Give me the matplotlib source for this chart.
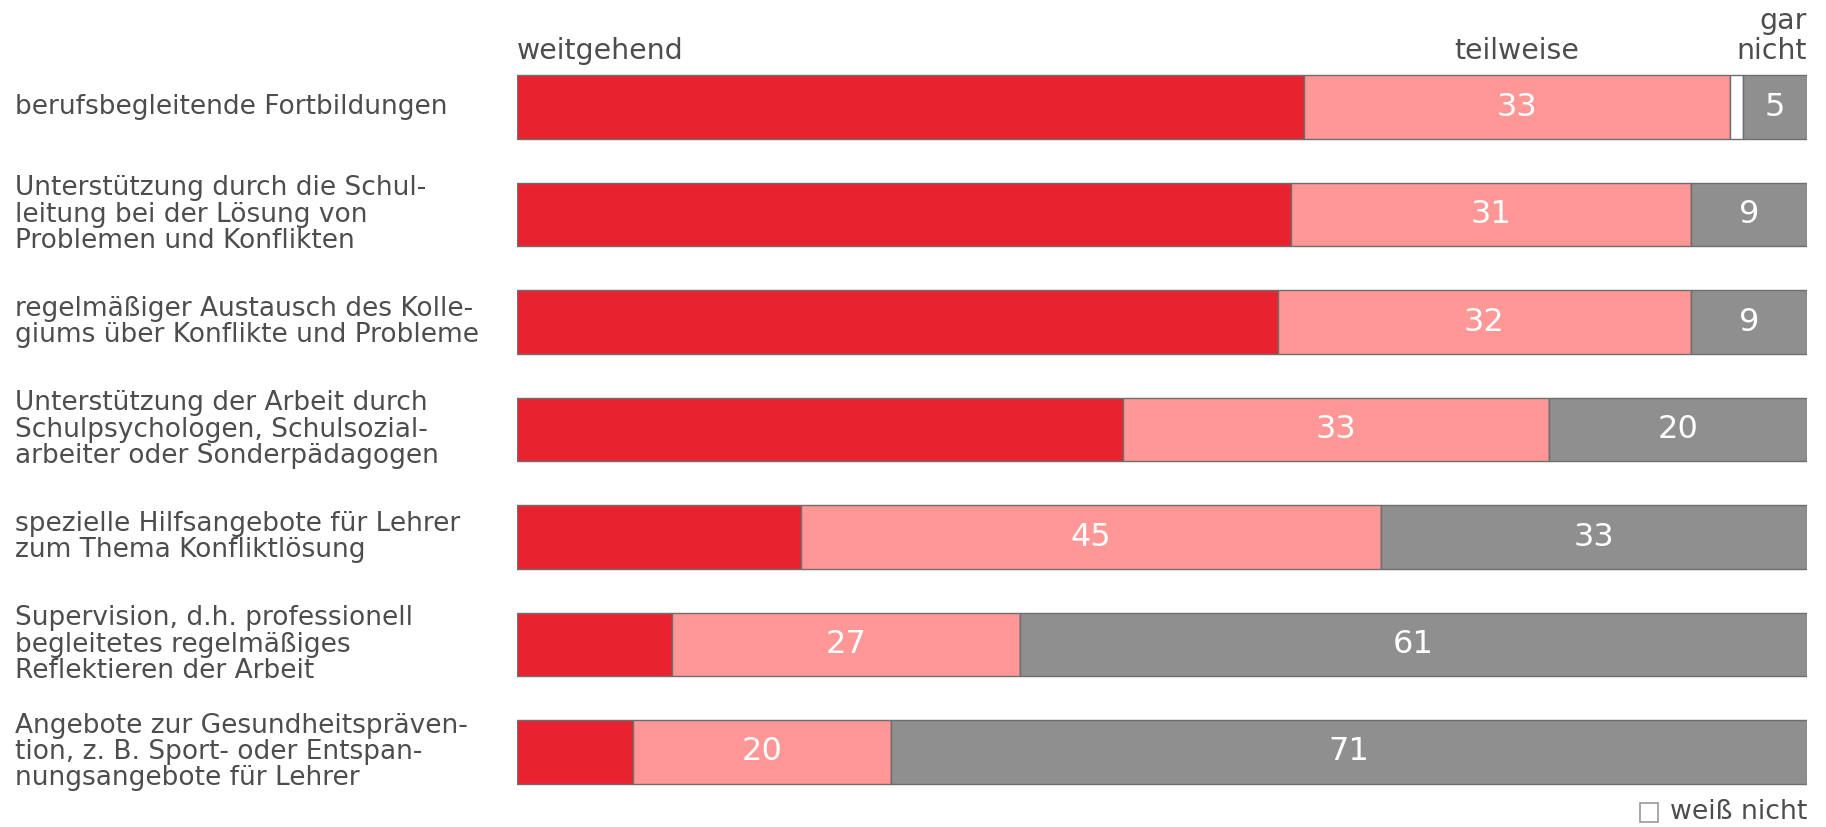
import matplotlib.pyplot as plt
from matplotlib.patches import Rectangle

categories = [
    "berufsbegleitende Fortbildungen",
    "Unterstützung durch die Schul-\nleitung bei der Lösung von\nProblemen und Konflikten",
    "regelmäßiger Austausch des Kolle-\ngiums über Konflikte und Probleme",
    "Unterstützung der Arbeit durch\nSchulpsychologen, Schulsozial-\narbeiter oder Sonderpädagogen",
    "spezielle Hilfsangebote für Lehrer\nzum Thema Konfliktlösung",
    "Supervision, d.h. professionell\nbegleitetes regelmäßiges\nReflektieren der Arbeit",
    "Angebote zur Gesundheitspräven-\ntion, z. B. Sport- oder Entspan-\nnungsangebote für Lehrer",
]
weitgehend = [61, 60, 59, 47, 22, 12, 9]
teilweise = [33, 31, 32, 33, 45, 27, 20]
weiss_nicht = [1, 0, 0, 0, 0, 0, 0]
gar_nicht = [5, 9, 9, 20, 33, 61, 71]

RED = "#e8232f"
PINK = "#fe9795"
GREY = "#8f8f8f"
EDGE = "#6e6e6e"
TXT = "#4d4d4d"

fig = plt.figure(figsize=(18.26, 8.27), dpi=100)
ax = fig.add_axes([517 / 1826, 1 - 805.75 / 827, 1290 / 1826, 752.5 / 827])
ax.set_xlim(0, 100)
ax.set_ylim(6.5, -0.5)
ax.axis("off")

h = 0.595
rows = range(len(categories))
left = [0] * len(categories)
for vals, col, lab in [(weitgehend, RED, False), (teilweise, PINK, True),
                       (weiss_nicht, "white", False), (gar_nicht, GREY, True)]:
    bars = ax.barh(rows, vals, left=left, height=h, color=col,
                   edgecolor=EDGE, linewidth=1.0)
    if lab:
        ax.bar_label(bars, labels=[str(v) for v in vals], label_type="center",
                     color="white", fontsize=23)
    left = [a + b for a, b in zip(left, vals)]

# row labels on the left edge of the figure
for i, c in enumerate(categories):
    ax.annotate(c, xy=(0, i), xycoords=("figure fraction", "data"),
                xytext=(15, 0), textcoords="offset pixels",
                fontsize=19, color=TXT, va="center", ha="left",
                linespacing=1.02)

# column headers
top = -0.5 + (1 - h) / 2 - 0.09
ax.text(0, top, "weitgehend", fontsize=20.4, color=TXT, ha="left", va="bottom")
ax.text(weitgehend[0] + teilweise[0] / 2, top, "teilweise", fontsize=20.4,
        color=TXT, ha="center", va="bottom")
ax.text(100, top, "gar\nnicht", fontsize=20.4, color=TXT, ha="right",
        va="bottom", multialignment="right", linespacing=1.12)

# legend for the white segment
fig.patches.append(Rectangle((1640 / 1826, 1 - 822 / 827), 18 / 1826, 19 / 827,
                             transform=fig.transFigure, facecolor="white",
                             edgecolor="#9a9a9a", linewidth=1.2))
fig.text(1807 / 1826, 1 - 812 / 827, "weiß nicht", fontsize=19.3, color=TXT,
         ha="right", va="center")

fig.savefig("out.png", dpi=100)
